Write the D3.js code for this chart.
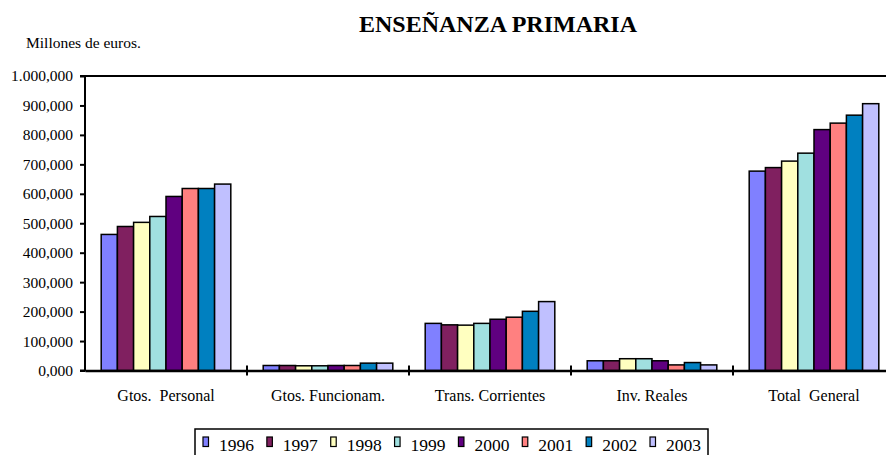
<!DOCTYPE html>
<html>
<head>
<meta charset="utf-8">
<script src="https://cdn.jsdelivr.net/npm/d3@7"></script>
<style>
  body { margin: 0; background: #fff; }
  svg { display: block; }
  text { font-family: "Liberation Serif", "Times New Roman", serif; fill: #000; }
</style>
</head>
<body>
<svg id="chart" width="886" height="455"></svg>
<script>
const categories = ["Gtos.  Personal", "Gtos. Funcionam.", "Trans. Corrientes", "Inv. Reales", "Total  General"];
const years = ["1996", "1997", "1998", "1999", "2000", "2001", "2002", "2003"];
const colors = ["#8080FF", "#802060", "#FFFFC0", "#A0E0E0", "#600080", "#FF8080", "#0080C0", "#C0C0FF"];
// values per year, order follows categories
const v1996 = [462000, 17000, 160000, 33000, 677000];
const v1997 = [489000, 17000, 155000, 33000, 689000];
const v1998 = [503000, 16000, 154000, 40000, 711000];
const v1999 = [523000, 16000, 160000, 40000, 738000];
const v2000 = [591000, 17000, 174000, 33000, 818000];
const v2001 = [618000, 17000, 181000, 19000, 840000];
const v2002 = [618000, 25000, 201000, 27000, 867000];
const v2003 = [633000, 25000, 234000, 19000, 906000];
const yTickValues = [0, 100000, 200000, 300000, 400000, 500000, 600000, 700000, 800000, 900000, 1000000];
const yTickLabels = ["0,000", "100,000", "200,000", "300,000", "400,000", "500,000", "600,000", "700,000", "800,000", "900,000", "1.000,000"];
const title = "ENSEÑANZA PRIMARIA";
const unitLabel = "Millones de euros.";

const series = [v1996, v1997, v1998, v1999, v2000, v2001, v2002, v2003];

const svg = d3.select("#chart");
const pLeft = 85, pTop = 76, pBottom = 370.5, catW = 162;
const serif = "'Liberation Serif', 'Times New Roman', serif";

const x = d3.scaleBand().domain(categories).range([pLeft, pLeft + catW * categories.length]).padding(0);
const xi = d3.scaleBand().domain(years).range([catW * 0.1, catW * 0.9]).padding(0);
const y = d3.scaleLinear().domain([0, 1000000]).range([pBottom, pTop]);

// title
svg.append("text").attr("x", 498).attr("y", 32).attr("text-anchor", "middle")
  .style("font-family", serif).style("font-size", "24px").style("font-weight", "bold").text(title);
svg.append("text").attr("x", 26).attr("y", 48)
  .style("font-family", serif).style("font-size", "15.5px").text(unitLabel);

// top frame line
svg.append("line").attr("x1", pLeft).attr("x2", 886).attr("y1", pTop).attr("y2", pTop)
  .attr("stroke", "#000").attr("stroke-width", 2);

// bars
const groups = svg.append("g").selectAll("g").data(categories).join("g")
  .attr("transform", d => `translate(${x(d)},0)`);
groups.selectAll("rect").data((c, ci) => years.map((yr, yi) => ({ yr, yi, v: series[yi][ci] })))
  .join("rect")
  .attr("x", d => xi(d.yr))
  .attr("width", xi.bandwidth())
  .attr("y", d => y(d.v))
  .attr("height", d => y(0) - y(d.v))
  .attr("fill", d => colors[d.yi])
  .attr("stroke", "#000").attr("stroke-width", 1.5);

// y axis
const yAxis = d3.axisLeft(y).tickValues(yTickValues).tickSize(5)
  .tickFormat((d, i) => yTickLabels[i]);
const yg = svg.append("g").attr("transform", `translate(${pLeft},0)`).call(yAxis);
yg.attr("font-family", null).attr("font-size", null);
yg.select(".domain").attr("stroke-width", 2).attr("d", `M-5,${pTop}H0V${pBottom}H-5`);
yg.selectAll(".tick line").attr("stroke-width", 2);
yg.selectAll(".tick text").attr("x", -12).style("font-size", "15.5px").style("font-family", serif);

// x axis
const xAxis = d3.axisBottom(x).tickSize(0).tickPadding(20);
const xg = svg.append("g").attr("transform", `translate(0,${pBottom})`).call(xAxis);
xg.attr("font-family", null).attr("font-size", null);
xg.select(".domain").attr("stroke-width", 2.5);
xg.selectAll(".tick text").style("font-size", "16px").style("font-family", serif)
  .attr("dy", 0).attr("y", 30.5).style("white-space", "pre");
// category separators
svg.append("g").selectAll("line").data(categories.slice(1)).join("line")
  .attr("x1", d => x(d)).attr("x2", d => x(d))
  .attr("y1", pBottom - 5).attr("y2", pBottom + 5)
  .attr("stroke", "#000").attr("stroke-width", 2);

// legend
const lg = svg.append("g");
lg.append("rect").attr("x", 195).attr("y", 429).attr("width", 513).attr("height", 40)
  .attr("fill", "none").attr("stroke", "#000").attr("stroke-width", 1.5);
const legendX = d3.scalePoint().domain(years).range([203, 650]);
const items = lg.selectAll("g.item").data(years).join("g").attr("class", "item")
  .attr("transform", d => `translate(${legendX(d)},0)`);
items.append("rect").attr("x", 0).attr("y", 437).attr("width", 5.5).attr("height", 9.5)
  .attr("fill", (d, i) => colors[i]).attr("stroke", "#000").attr("stroke-width", 1.2);
items.append("text").attr("x", 16).attr("y", 451)
  .style("font-family", serif).style("font-size", "17.5px").text(d => d);
</script>
</body>
</html>
